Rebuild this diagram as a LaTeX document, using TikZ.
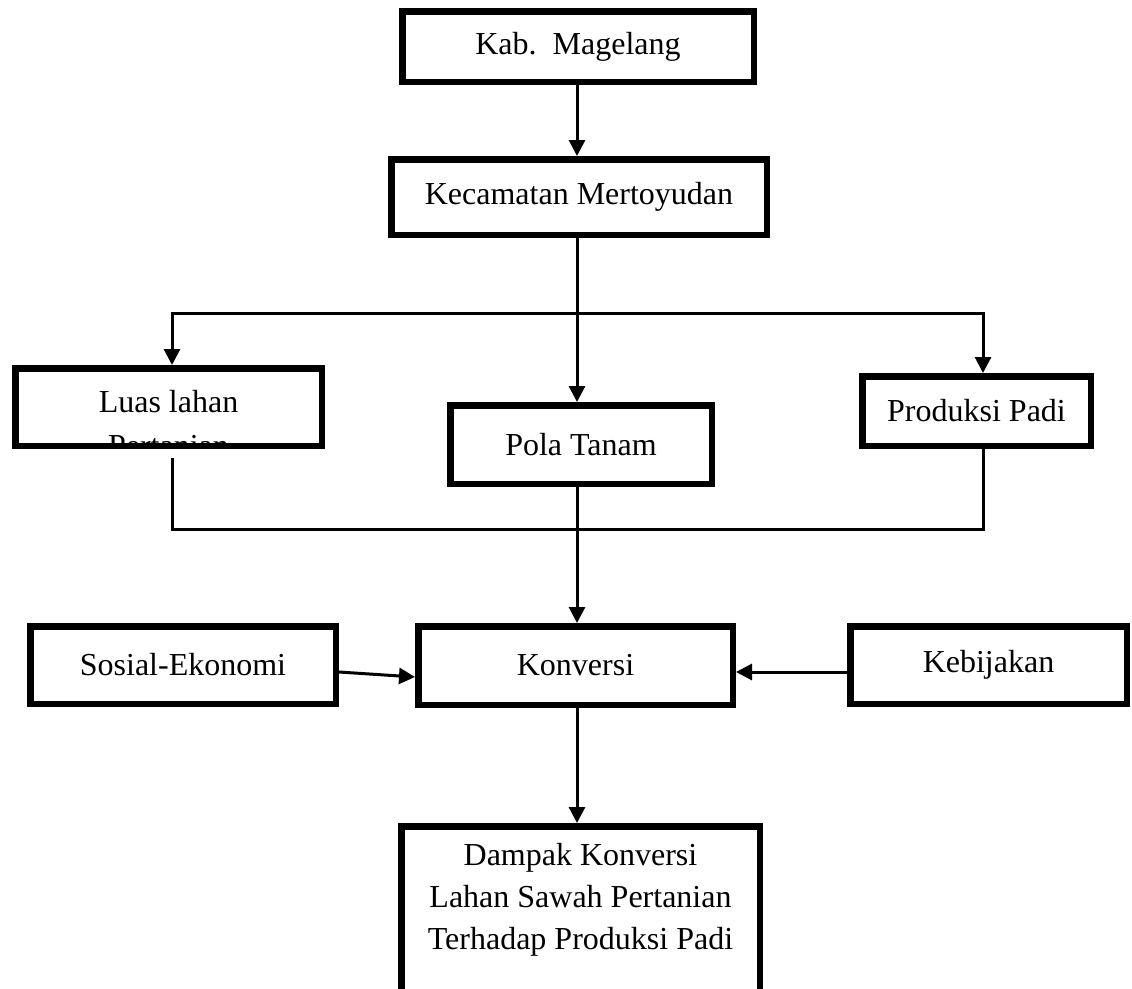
\documentclass[tikz,border=0pt]{standalone}
\usepackage{fontspec}
\setmainfont{Liberation Serif}
\usetikzlibrary{arrows.meta}
\begin{document}
\begin{tikzpicture}[x=1pt,y=-1pt,
  box/.style={draw=black, line width=6.5pt, fill=white, inner sep=0pt,
    font=\fontsize{32}{42}\selectfont, align=center},
  lbl/.style={inner sep=0pt, font=\fontsize{32}{42}\selectfont, align=center},
  conn/.style={line width=3pt, line join=miter},
  tip/.tip={Triangle[width=16pt,length=16pt]},
  arr/.style={conn, -tip}]
\fill[white] (0,0) rectangle (1132,988);
\useasboundingbox (0,0) rectangle (1132,988);

\node[box, minimum width=351.5pt, minimum height=70.5pt] (kab) at (578,46.5) {Kab.~~Magelang};
\node[box, minimum width=375.5pt, minimum height=75.5pt] (kec) at (579,197) {Kecamatan Mertoyudan};
\node[box, minimum width=306.5pt, minimum height=77.5pt] (luas) at (168.5,407) {};
\node[box, minimum width=261.5pt, minimum height=78.5pt] (pola) at (581,444.5) {Pola Tanam};
\node[box, minimum width=228.5pt, minimum height=69.5pt] (prod) at (976.5,411) {Produksi Padi};
\node[box, minimum width=305.5pt, minimum height=77.5pt] (sos) at (183,665) {Sosial-Ekonomi};
\node[box, minimum width=314.5pt, minimum height=78.5pt] (konv) at (575.5,665.5) {Konversi};
\node[box, minimum width=276.5pt, minimum height=77.5pt] (keb) at (988.5,665) {Kebijakan};
\node[box, minimum width=358.5pt, minimum height=240pt, anchor=north] (damp) at (580.5,823) {};
\node[lbl] (damptext) at (580.5,900) {Dampak Konversi\\Lahan Sawah Pertanian\\Terhadap Produksi Padi};

\begin{scope}
  \clip ([shift={(6.5,6.5)}]luas.north west) rectangle ([shift={(-6.5,-6.5)}]luas.south east);
  \node[lbl, anchor=north] (luastext) at (168.5,390) {Luas lahan\\[2pt]Pertanian};
\end{scope}

\coordinate (jt) at (577,313);
\coordinate (lt) at (172,313);
\coordinate (rt) at (983,313);
\coordinate (lb) at (172,529);
\coordinate (rb) at (983,529);

\draw[arr] (jt |- kab.south) -- (jt |- kec.north);
\draw[arr] (jt |- kec.south) -- (jt |- pola.north);
\draw[conn, tip-tip] (lt |- luas.north) -- (lt) -- (rt) -- (rt |- prod.north);
\draw[conn] ([yshift=-9pt]lb |- luas.south) -- (lb) -- (rb) -- (rb |- prod.south);
\draw[arr] (jt |- pola.south) -- (jt |- konv.north);
\draw[arr] (jt |- konv.south) -- (jt |- damp.north);
\draw[arr] ([yshift=-7pt]sos.east) -- ([yshift=-11.5pt]konv.west);
\draw[arr] ([yshift=-7pt]keb.west) -- ([yshift=-6.5pt]konv.east);
\end{tikzpicture}
\end{document}
